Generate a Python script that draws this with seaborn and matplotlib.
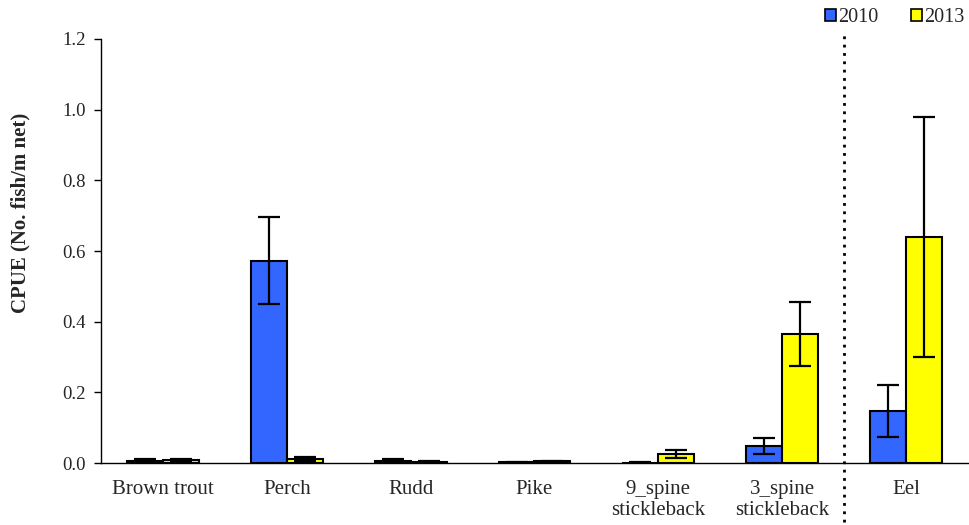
import numpy as np
import pandas as pd
import matplotlib
matplotlib.use("Agg")
import matplotlib.pyplot as plt
import matplotlib.transforms as mtransforms
from matplotlib.patches import Patch
import seaborn as sns

# Catch per unit effort by species and survey year
species = ["Brown trout", "Perch", "Rudd", "Pike", "9_spine\nstickleback",
           "3_spine\nstickleback", "Eel"]
years = ["2010", "2013"]
cpue_2010 = [0.007, 0.572, 0.006, 0.002, 0.001, 0.048, 0.147]
cpue_2013 = [0.008, 0.012, 0.004, 0.005, 0.026, 0.365, 0.640]
err_2010 = [0.004, 0.123, 0.004, 0.001, 0.001, 0.022, 0.073]
err_2013 = [0.004, 0.005, 0.002, 0.002, 0.012, 0.090, 0.340]
yticks = [0.0, 0.2, 0.4, 0.6, 0.8, 1.0, 1.2]

df = pd.DataFrame({
    "species": species * 2,
    "year": [years[0]] * len(species) + [years[1]] * len(species),
    "cpue": cpue_2010 + cpue_2013,
})
errs = {years[0]: err_2010, years[1]: err_2013}
colors = {"2010": "#3366FF", "2013": "#FFFF00"}

sns.set_style("white")
plt.rcParams["font.family"] = ["Liberation Serif", "DejaVu Serif"]

fig = plt.figure(figsize=(9.7, 5.25), dpi=100)
ax = fig.add_axes([101 / 970, 62 / 525, 867 / 970, 424 / 525])

sns.barplot(data=df, x="species", y="cpue", hue="year", order=species,
            hue_order=years, palette=colors, width=0.58, errorbar=None,
            edgecolor="black", linewidth=1.5, saturation=1, legend=False, ax=ax)

# Error bars placed at each bar's centre and height
for cont, yr in zip(ax.containers, years):
    xs = [p.get_x() + p.get_width() / 2 for p in cont.patches]
    hs = [p.get_height() for p in cont.patches]
    ax.errorbar(xs, hs, yerr=errs[yr], fmt="none", ecolor="black",
                elinewidth=1.6, capsize=8, capthick=1.6, zorder=5)

ax.set_xlim(-0.5, len(species) - 0.5)
ax.set_ylim(0, 1.2)
ax.set_yticks(yticks)
ax.set_yticklabels([f"{v:.1f}" for v in yticks], fontsize=13.5)
ax.set_xticks(range(len(species)))
ax.set_xticklabels(species, fontsize=15, linespacing=1.2)
ax.set_xticks(np.arange(-0.5, len(species)), minor=True)
ax.tick_params(axis="x", which="major", length=0, pad=12)
ax.tick_params(axis="x", which="minor", length=5, width=1, direction="out",
               color="black")
ax.tick_params(axis="y", length=5, width=1, direction="out", color="black",
               left=True, pad=6)
ax.set_xlabel("")
ax.set_ylabel("CPUE (No. fish/m net)", fontsize=15, fontweight="bold")
ax.yaxis.set_label_coords(-0.081, 0.59)

for s in ["top", "right"]:
    ax.spines[s].set_visible(False)
for s in ["left", "bottom"]:
    ax.spines[s].set_color("black")
    ax.spines[s].set_linewidth(1)

# Dotted separator before Eel
trans = mtransforms.blended_transform_factory(ax.transData, ax.transAxes)
ax.plot([5.5, 5.5], [-0.14, 1.01], transform=trans, color="black",
        linestyle=(0, (1, 2)), linewidth=2, clip_on=False)

handles = [Patch(facecolor=colors[y], edgecolor="black", linewidth=1.2)
           for y in years]
fig.legend(handles, years, loc="center right",
           bbox_to_anchor=(1.0 + 4 / 970, 1 - 18 / 525),
           ncol=2, frameon=False, fontsize=14.5, handlelength=0.55,
           handleheight=0.55, handletextpad=0.1, columnspacing=1.6,
           borderaxespad=0.1)

fig.savefig("out.png", dpi=100)
